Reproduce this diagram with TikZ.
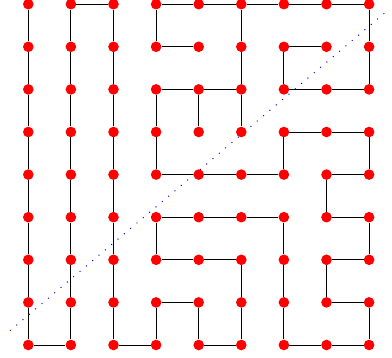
\documentclass[tikz,border=0pt]{standalone}
\begin{document}
\begin{tikzpicture}[x=1pt,y=1pt,
  dot/.style={circle,fill=red,draw=none,inner sep=0pt,minimum size=10.6pt},
  edge/.style={draw=black,line width=0.9pt},
  diag/.style={blue,line width=1pt,dash pattern=on 1pt off 7.3pt}]
\useasboundingbox (0,0) rectangle (392,358);
\coordinate (d1) at (10,27.3);
\coordinate (d2) at (384.3,344.7);
\draw[diag] (d1) -- (d2);
\foreach \i in {0,...,8}{
  \foreach \j in {0,...,8}{
    \node[dot] (n\i\j) at ({28.3+42.6*\i},{13+42.6*\j}) {};
  }
}
% left columns
\draw[edge] (n08)--(n07)--(n06)--(n05)--(n04)--(n03)--(n02)--(n01)--(n00)--(n10)
  --(n11)--(n12)--(n13)--(n14)--(n15)--(n16)--(n17)--(n18)--(n28)
  --(n27)--(n26)--(n25)--(n24)--(n23)--(n22)--(n21)--(n20)--(n30);
% main winding path
\draw[edge] (n30)--(n31)--(n41)--(n40)--(n50)--(n51)--(n52)--(n42)--(n32)--(n33)
  --(n43)--(n53)--(n63)--(n62)--(n61)--(n60)--(n70)--(n80)--(n81)--(n71)--(n72)
  --(n82)--(n83)--(n73)--(n74)--(n84)--(n85)--(n75)--(n65)--(n64)--(n54)--(n44)
  --(n34)--(n35)--(n36)--(n46)--(n56)--(n57)--(n58);
% branches
\draw[edge] (n46)--(n45);
\draw[edge] (n56)--(n55);
\draw[edge] (n58)--(n48)--(n38)--(n37)--(n47);
\draw[edge] (n58)--(n68)--(n78)--(n88)--(n87)--(n86)--(n76)--(n66)--(n67)--(n77);
\end{tikzpicture}
\end{document}
